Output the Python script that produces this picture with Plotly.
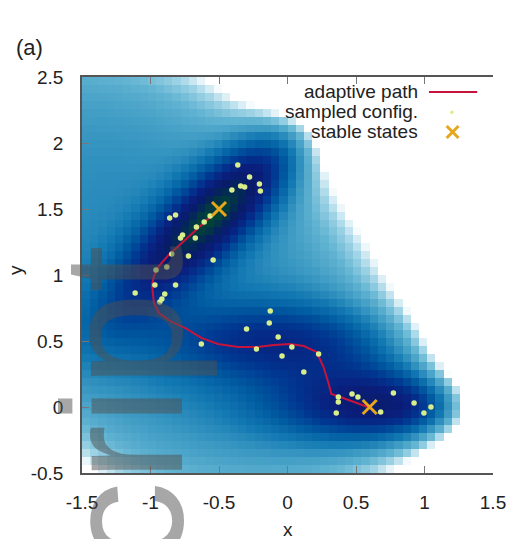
import numpy as np
import plotly.graph_objects as go

# ---- Mueller-Brown potential parameters (the surface shown as heatmap) ----
MB_A = [-200, -100, -170, 15]
MB_a = [-1, -1, -6.5, 0.7]
MB_b = [0, 0, 11, 0.6]
MB_c = [-10, -10, -6.5, 0.7]
MB_X0 = [1, 0, -0.5, -1]
MB_Y0 = [0, 0.5, 1.5, 1]

# ---- adaptive path ----
path_x = [-0.500, -0.680, -0.867, -0.939, -0.975, -0.989, -0.975, -0.939, -0.845, -0.745,
          -0.629, -0.507, -0.363, -0.219, -0.097, 0.018, 0.119, 0.212, 0.263, 0.299,
          0.320, 0.406, 0.500, 0.586]
path_y = [1.500, 1.326, 1.152, 1.068, 0.992, 0.924, 0.788, 0.712, 0.644, 0.598,
          0.523, 0.477, 0.455, 0.455, 0.470, 0.477, 0.462, 0.417, 0.303, 0.182,
          0.098, 0.068, 0.030, 0.000]

# ---- sampled configurations ----
samp_x = [-0.363, -0.277, -0.342, -0.313, -0.406, -0.205, -0.198, -0.860, -0.817, -0.565,
          -0.608, -0.665, -0.673, -0.766, -0.781, -0.845, -0.723, -0.543, -0.960, -0.881,
          -0.968, -0.817, -1.112, -0.896, -0.917, -0.932, -0.126, -0.133, -0.299, -0.068,
          -0.629, -0.227, 0.032, -0.040, 0.227, 0.119, 0.371, 0.471, 0.514, 0.371,
          0.356, 0.680, 0.773, 0.924, 1.047, 0.996]
samp_y = [1.833, 1.742, 1.674, 1.667, 1.644, 1.689, 1.636, 1.432, 1.455, 1.447,
          1.402, 1.364, 1.280, 1.303, 1.280, 1.159, 1.144, 1.114, 1.038, 1.061,
          0.924, 0.924, 0.864, 0.856, 0.818, 0.795, 0.727, 0.636, 0.591, 0.530,
          0.477, 0.439, 0.455, 0.386, 0.402, 0.265, 0.076, 0.098, 0.076, 0.038,
          -0.045, -0.038, 0.106, 0.030, 0.000, -0.045]

# ---- stable states ----
stable_x = [-0.5, 0.6]
stable_y = [1.5, 0.0]

# ---- tick labels ----
x_ticks = [-1.5, -1, -0.5, 0, 0.5, 1, 1.5]
x_ticktext = ["-1.5", "-1", "-0.5", "0", "0.5", "1", "1.5"]
y_ticks = [-0.5, 0, 0.5, 1, 1.5, 2, 2.5]
y_ticktext = ["-0.5", "0", "0.5", "1", "1.5", "2", "2.5"]

# heatmap grid (cell centres, 0.06 spacing)
gx = np.linspace(-1.47, 1.47, 50)
gy = np.linspace(-0.47, 2.47, 50)
XX, YY = np.meshgrid(gx, gy)
Z = np.zeros_like(XX)
for A, a, b, c, x0, y0 in zip(MB_A, MB_a, MB_b, MB_c, MB_X0, MB_Y0):
    dx = XX - x0
    dy = YY - y0
    Z += A * np.exp(a * dx * dx + b * dx * dy + c * dy * dy)

zmin, zmax = -150.0, 110.0
stops = [
    (-150, "rgb(0,75,45)"),
    (-132, "rgb(2,45,80)"),
    (-115, "rgb(8,28,105)"),
    (-90, "rgb(10,30,125)"),
    (-60, "rgb(0,55,145)"),
    (-30, "rgb(0,90,160)"),
    (0, "rgb(18,120,178)"),
    (30, "rgb(58,152,194)"),
    (60, "rgb(98,180,210)"),
    (85, "rgb(160,212,230)"),
    (110, "rgb(255,255,255)"),
]
colorscale = [[(v - zmin) / (zmax - zmin), col] for v, col in stops]

FONT = "Liberation Sans, Arial, sans-serif"
TXT = "#222222"
FS = 19

fig = go.Figure()
fig.add_trace(go.Heatmap(x=gx, y=gy, z=Z, zmin=zmin, zmax=zmax, colorscale=colorscale,
                         showscale=False, zsmooth=False, hoverinfo="skip"))
fig.add_trace(go.Scatter(x=path_x, y=path_y, mode="lines",
                         line=dict(color="#c8143c", width=2), showlegend=False))
fig.add_trace(go.Scatter(x=samp_x, y=samp_y, mode="markers",
                         marker=dict(color="#d8ee8c", size=5.5, line=dict(width=0)),
                         showlegend=False))
fig.add_trace(go.Scatter(x=stable_x, y=stable_y, mode="markers",
                         marker=dict(symbol="x-thin", size=14, color="#e6a61e",
                                     line=dict(color="#e6a61e", width=3)),
                         showlegend=False))

# plot area in pixels: x 82..499, y 77..473
def px(xp):
    return (xp - 82) / 417.0

def py(yp):
    return (473 - yp) / 396.0

ann = []
# legend texts
for txt, yp in [("adaptive path", 91), ("sampled config.", 111), ("stable states", 132)]:
    ann.append(dict(x=px(425), y=py(yp), xref="paper", yref="paper", text=txt,
                    showarrow=False, xanchor="right", yanchor="middle",
                    font=dict(family=FONT, size=FS, color=TXT)))
# panel label
ann.append(dict(x=px(29), y=py(47), xref="paper", yref="paper", text="(a)", showarrow=False,
                xanchor="center", yanchor="middle", font=dict(family=FONT, size=22, color=TXT)))
# axis titles
ann.append(dict(x=px(290.5), y=py(529), xref="paper", yref="paper", text="x", showarrow=False,
                xanchor="center", yanchor="middle", font=dict(family=FONT, size=FS, color=TXT)))
ann.append(dict(x=px(14), y=py(270), xref="paper", yref="paper", text="y", showarrow=False,
                textangle=-90, xanchor="center", yanchor="middle",
                font=dict(family=FONT, size=FS, color=TXT)))
# watermark
ann.append(dict(x=px(124), y=py(243), xref="paper", yref="paper", text="script", showarrow=False,
                textangle=-90, xanchor="center", yanchor="top",
                font=dict(family=FONT, size=170, color="rgba(80,80,80,0.5)")))

shapes = [
    dict(type="line", xref="paper", yref="paper", x0=px(434), x1=px(483), y0=py(92), y1=py(92),
         line=dict(color="#c8143c", width=2)),
    dict(type="circle", xref="paper", yref="paper", x0=px(455.5), x1=px(459), y0=py(110.5), y1=py(114),
         fillcolor="#d8ee8c", line=dict(width=0)),
    dict(type="line", xref="paper", yref="paper", x0=px(452), x1=px(464), y0=py(126), y1=py(138),
         line=dict(color="#e6a61e", width=3)),
    dict(type="line", xref="paper", yref="paper", x0=px(452), x1=px(464), y0=py(138), y1=py(126),
         line=dict(color="#e6a61e", width=3)),
]

fig.update_layout(
    width=518, height=539,
    margin=dict(l=82, r=19, t=77, b=66),
    paper_bgcolor="white", plot_bgcolor="white",
    font=dict(family=FONT, size=FS, color=TXT),
    showlegend=False,
    annotations=ann, shapes=shapes,
    xaxis=dict(range=[-1.5, 1.5], tickvals=x_ticks, ticktext=x_ticktext, ticks="inside",
               ticklen=7, tickcolor="#777", showline=True, linecolor="#555", linewidth=1.5,
               mirror="ticks", showgrid=False, zeroline=False, ticklabelstandoff=11,
               tickfont=dict(family=FONT, size=FS, color=TXT)),
    yaxis=dict(range=[-0.5, 2.5], tickvals=y_ticks, ticktext=y_ticktext, ticks="inside",
               ticklen=7, tickcolor="#777", showline=True, linecolor="#555", linewidth=1.5,
               mirror=False, showgrid=False, zeroline=False, ticklabelstandoff=13,
               tickfont=dict(family=FONT, size=FS, color=TXT)),
    yaxis2=dict(range=[-0.5, 2.5], overlaying="y", side="right", anchor="x", tickvals=y_ticks,
                ticks="inside", ticklen=7, tickcolor="#777", showline=False,
                showticklabels=False, showgrid=False, zeroline=False),
)

fig.write_html("out.html", config={"displayModeBar": False},
               post_script="document.body.style.margin='0';document.body.style.overflow='hidden';")
